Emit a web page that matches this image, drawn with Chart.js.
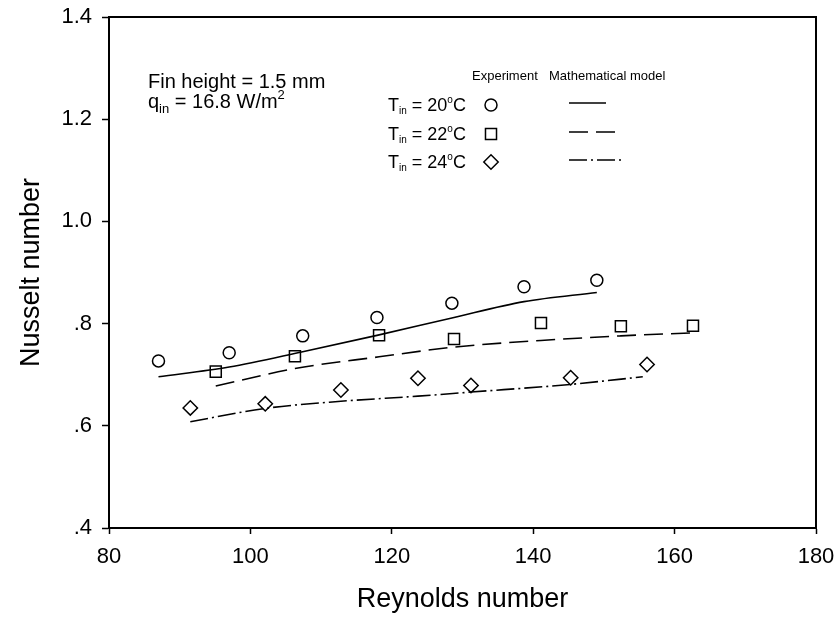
<!DOCTYPE html>
<html>
<head>
<meta charset="utf-8">
<script src="https://cdn.jsdelivr.net/npm/chart.js@4.4.0/dist/chart.umd.min.js"></script>
<style>
  html, body { margin: 0; padding: 0; background: #fff; }
  #wrap { width: 840px; height: 626px; }
</style>
</head>
<body>
<div id="wrap"><canvas id="nuChart"></canvas></div>
<script>
// experiment, Tin = 20, 22, 24 C
const re20 = [87, 97, 107.4, 117.9, 128.5, 138.7, 149];
const nu20 = [0.727, 0.743, 0.776, 0.812, 0.840, 0.872, 0.885];
const re22 = [95.1, 106.3, 118.2, 128.8, 141.1, 152.4, 162.6];
const nu22 = [0.706, 0.736, 0.777, 0.770, 0.801, 0.795, 0.796];
const re24 = [91.5, 102.1, 112.8, 123.7, 131.2, 145.3, 156.1];
const nu24 = [0.635, 0.643, 0.670, 0.693, 0.679, 0.694, 0.720];
// mathematical model
const model20 = [0.696, 0.715, 0.745, 0.777, 0.811, 0.843, 0.861];
const model22 = [0.678, 0.712, 0.735, 0.754, 0.767, 0.776, 0.782];
const modelRe24 = [91.5, 102.1, 112.8, 123.7, 131.2, 145.3, 155.5];
const model24 = [0.608, 0.634, 0.648, 0.658, 0.666, 0.681, 0.696];

const xTicks = [80, 100, 120, 140, 160, 180];
const yTicks = [0.4, 0.6, 0.8, 1.0, 1.2, 1.4];

const FONT = "'Liberation Sans', Arial, sans-serif";
const dash22 = [19, 8];
const dash24 = [18, 4, 2, 4];

function pts(xs, ys) {
  return xs.map((x, i) => ({x: x, y: ys[i]}));
}

function yLabel(v) {
  let s = v.toFixed(1);
  return v < 1 ? s.replace(/^0/, '') : s;
}

// draws text pieces with sub/superscripts, returns end x
function richText(ctx, parts, x, y) {
  parts.forEach(p => {
    ctx.font = p.size + 'px ' + FONT;
    ctx.fillText(p.t, x, y + (p.dy || 0));
    x += ctx.measureText(p.t).width;
  });
  return x;
}

const notesPlugin = {
  id: 'notes',
  afterDraw(chart) {
    const ctx = chart.ctx;
    const a = chart.chartArea;
    ctx.save();
    // top and right frame
    ctx.strokeStyle = '#000';
    ctx.lineWidth = 2;
    ctx.beginPath();
    ctx.moveTo(a.left, a.top);
    ctx.lineTo(a.right, a.top);
    ctx.lineTo(a.right, a.bottom);
    ctx.stroke();

    ctx.fillStyle = '#000';
    ctx.textBaseline = 'alphabetic';
    ctx.textAlign = 'left';
    richText(ctx, [{t: 'Fin height = 1.5 mm', size: 20}], 148, 88);
    richText(ctx, [{t: 'q', size: 20}, {t: 'in', size: 13, dy: 5}, {t: ' = 16.8 W/m', size: 20},
      {t: '2', size: 13, dy: -9}], 148, 108);

    richText(ctx, [{t: 'Experiment', size: 13}], 472, 80);
    richText(ctx, [{t: 'Mathematical model', size: 13}], 549, 80);

    const rows = [
      {label: '20', y: 105, style: 'circle', dash: [], end: 606},
      {label: '22', y: 134, style: 'rect', dash: dash22, end: 617},
      {label: '24', y: 162, style: 'rectRot', dash: dash24, end: 623}
    ];
    rows.forEach(r => {
      ctx.fillStyle = '#000';
      richText(ctx, [{t: 'T', size: 18}, {t: 'in', size: 10, dy: 3}, {t: ' = ' + r.label, size: 18},
        {t: 'o', size: 10, dy: -8}, {t: 'C', size: 18}], 388, r.y + 6);
      ctx.lineWidth = 1.5;
      ctx.strokeStyle = '#000';
      ctx.fillStyle = '#fff';
      const rad = r.style === 'circle' ? 6 : (r.style === 'rect' ? 7.8 : 7.2);
      Chart.helpers.drawPoint(ctx, {pointStyle: r.style, radius: rad, borderWidth: 1.5}, 491, r.y);
      ctx.setLineDash(r.dash);
      ctx.beginPath();
      ctx.moveTo(569, r.y - 2);
      ctx.lineTo(r.end, r.y - 2);
      ctx.stroke();
      ctx.setLineDash([]);
    });
    ctx.restore();
  }
};

function expSet(xs, ys, style, radius) {
  return {
    type: 'scatter',
    data: pts(xs, ys),
    showLine: false,
    pointStyle: style,
    pointRadius: radius,
    pointHoverRadius: radius,
    pointBorderWidth: 1.5,
    pointBorderColor: '#000',
    pointBackgroundColor: 'rgba(255,255,255,0)',
    order: 1
  };
}

function modelSet(xs, ys, dash) {
  return {
    type: 'line',
    data: pts(xs, ys),
    borderColor: '#000',
    borderWidth: 1.6,
    borderDash: dash,
    pointRadius: 0,
    fill: false,
    tension: 0.4,
    cubicInterpolationMode: 'monotone',
    order: 2
  };
}

new Chart(document.getElementById('nuChart'), {
  data: {
    datasets: [
      modelSet(re20, model20, []),
      modelSet(re22, model22, dash22),
      modelSet(modelRe24, model24, dash24),
      expSet(re20, nu20, 'circle', 6),
      expSet(re22, nu22, 'rect', 7.8),
      expSet(re24, nu24, 'rectRot', 7.2)
    ]
  },
  options: {
    responsive: true,
    maintainAspectRatio: false,
    animation: false,
    layout: { padding: { left: 11, right: 24, top: 17, bottom: 6 } },
    plugins: { legend: { display: false }, tooltip: { enabled: false } },
    scales: {
      x: {
        type: 'linear',
        min: 80, max: 180,
        afterBuildTicks: s => { s.ticks = xTicks.map(v => ({value: v})); },
        afterFit: s => { s.height = 92; s.paddingLeft = 0; s.paddingRight = 0; },
        border: { display: true, color: '#000', width: 2 },
        grid: { drawOnChartArea: false, drawTicks: true, tickLength: 6, tickColor: '#000', tickWidth: 1.5 },
        ticks: { color: '#000', font: { family: FONT, size: 22 }, padding: 10, maxRotation: 0 },
        title: { display: true, text: 'Reynolds number', color: '#000', font: { family: FONT, size: 27 } }
      },
      y: {
        type: 'linear',
        min: 0.4, max: 1.4,
        afterBuildTicks: s => { s.ticks = yTicks.map(v => ({value: v})); },
        afterFit: s => { s.width = 98; s.paddingTop = 0; s.paddingBottom = 0; },
        border: { display: true, color: '#000', width: 2 },
        grid: { drawOnChartArea: false, drawTicks: true, tickLength: 7, tickColor: '#000', tickWidth: 1.5 },
        ticks: { color: '#000', font: { family: FONT, size: 22 }, padding: 10, callback: v => yLabel(v) },
        title: { display: true, text: 'Nusselt number', color: '#000', font: { family: FONT, size: 27 } }
      }
    }
  },
  plugins: [notesPlugin]
});
</script>
</body>
</html>
